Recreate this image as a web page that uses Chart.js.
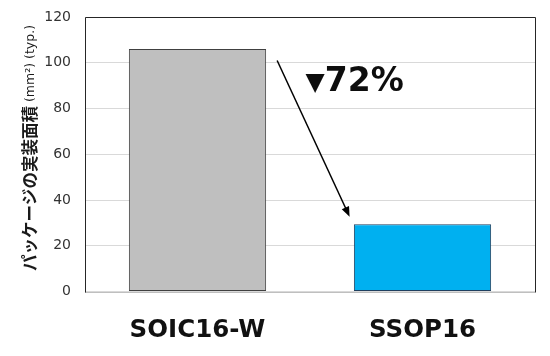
<!DOCTYPE html>
<html>
<head>
<meta charset="utf-8">
<script src="https://cdn.jsdelivr.net/npm/chart.js@4"></script>
<style>
  html, body { margin: 0; padding: 0; background: #fff; }
  #wrap { width: 550px; height: 356px; }
</style>
</head>
<body>
<div id="wrap"><canvas id="chart-area"></canvas></div>
<script>
// data
var packages = ['SOIC16-W', 'SSOP16'];
var areaValues = [106, 29.4];
var barColors = ['#bfbfbf', '#00b0f0'];
var barBorders = ['#404040', '#1f3f5f'];
var yTicks = [0, 20, 40, 60, 80, 100, 120];
var yTitleMain = 'パッケージの実装面積';
var yTitleSub = ' (mm²) (typ.)';
var reductionMark = '▼';
var reductionLabel = '72%';

// frame around the plot area
var frame = {
    id: 'frame',
    beforeDatasetsDraw: function (chart) {
        var a = chart.chartArea, c = chart.ctx;
        c.save();
        c.lineWidth = 1;
        c.strokeStyle = '#bfbfbf';
        c.beginPath();
        c.moveTo(a.left, Math.round(a.bottom) + 0.5);
        c.lineTo(a.right, Math.round(a.bottom) + 0.5);
        c.stroke();
        c.strokeStyle = '#262626';
        c.beginPath();
        c.moveTo(Math.round(a.left) + 0.5, Math.round(a.bottom) + 0.5);
        c.lineTo(Math.round(a.left) + 0.5, Math.round(a.top) + 0.5);
        c.lineTo(Math.round(a.right) + 0.5, Math.round(a.top) + 0.5);
        c.lineTo(Math.round(a.right) + 0.5, Math.round(a.bottom) + 0.5);
        c.stroke();
        c.restore();
    }
};

// y title in two styles
var yTitle = {
    id: 'yTitle',
    afterDraw: function (chart) {
        var c = chart.ctx;
        c.save();
        c.translate(30, 271);
        c.rotate(-Math.PI / 2);
        c.textBaseline = 'middle';
        c.textAlign = 'left';
        c.fillStyle = '#1a1a1a';
        c.font = 'bold 16.5px "Noto Sans CJK JP"';
        c.fillText(yTitleMain, 0, 0);
        var w = c.measureText(yTitleMain).width;
        c.font = '12.5px "DejaVu Sans"';
        c.fillText(yTitleSub, w, 0.5);
        c.restore();
    }
};

// arrow + reduction text
var reduction = {
    id: 'reduction',
    afterDatasetsDraw: function (chart) {
        var x = chart.scales.x, y = chart.scales.y, c = chart.ctx;
        var x1 = x.getPixelForValue(0.354), y1 = y.getPixelForValue(101);
        var x2 = x.getPixelForValue(0.676), y2 = y.getPixelForValue(32.7);
        var ang = Math.atan2(y2 - y1, x2 - x1);
        c.save();
        c.strokeStyle = '#000';
        c.fillStyle = '#000';
        c.lineWidth = 1.5;
        c.beginPath();
        c.moveTo(x1, y1);
        c.lineTo(x2 - 6 * Math.cos(ang), y2 - 6 * Math.sin(ang));
        c.stroke();
        c.beginPath();
        c.moveTo(x2, y2);
        c.lineTo(x2 - 10 * Math.cos(ang) + 4 * Math.sin(ang), y2 - 10 * Math.sin(ang) - 4 * Math.cos(ang));
        c.lineTo(x2 - 10 * Math.cos(ang) - 4 * Math.sin(ang), y2 - 10 * Math.sin(ang) + 4 * Math.cos(ang));
        c.closePath();
        c.fill();
        var tx = x.getPixelForValue(0.48), ty = y.getPixelForValue(91.3);
        c.textBaseline = 'middle';
        c.textAlign = 'left';
        c.fillStyle = '#0d0d0d';
        c.font = 'bold 25px "DejaVu Sans"';
        c.fillText(reductionMark, tx, ty + 1);
        var w = c.measureText(reductionMark).width;
        c.font = 'bold 33px "DejaVu Sans"';
        c.fillText(reductionLabel, tx + w, ty);
        c.restore();
    }
};

var ctx = document.getElementById('chart-area').getContext('2d');
var chartArea = new Chart(ctx, {
    type: 'bar',
    data: {
        labels: packages,
        datasets: [{
            data: areaValues,
            backgroundColor: barColors,
            borderColor: barBorders,
            borderWidth: 1,
            borderSkipped: false,
            categoryPercentage: 0.61,
            barPercentage: 1
        }]
    },
    options: {
        responsive: true,
        maintainAspectRatio: false,
        animation: false,
        devicePixelRatio: 1,
        layout: { padding: { top: 17, right: 15, bottom: 0, left: 0 } },
        plugins: { legend: { display: false }, tooltip: { enabled: false } },
        scales: {
            x: {
                grid: { display: false },
                border: { display: false },
                ticks: {
                    color: '#111',
                    font: { family: 'DejaVu Sans', size: 24.5, weight: 'bold' },
                    padding: 16
                },
                afterFit: function (s) { s.height = 64.5; s.paddingLeft = 0; s.paddingRight = 0; }
            },
            y: {
                min: 0,
                max: 120,
                afterBuildTicks: function (s) { s.ticks = yTicks.map(function (v) { return { value: v }; }); },
                grid: { color: '#d9d9d9', drawTicks: false },
                border: { display: false },
                ticks: {
                    color: '#333',
                    font: { family: 'DejaVu Sans', size: 14 },
                    padding: 14
                },
                afterFit: function (s) { s.width = 85; s.paddingTop = 0; s.paddingBottom = 0; }
            }
        }
    },
    plugins: [frame, yTitle, reduction]
});
</script>
</body>
</html>
